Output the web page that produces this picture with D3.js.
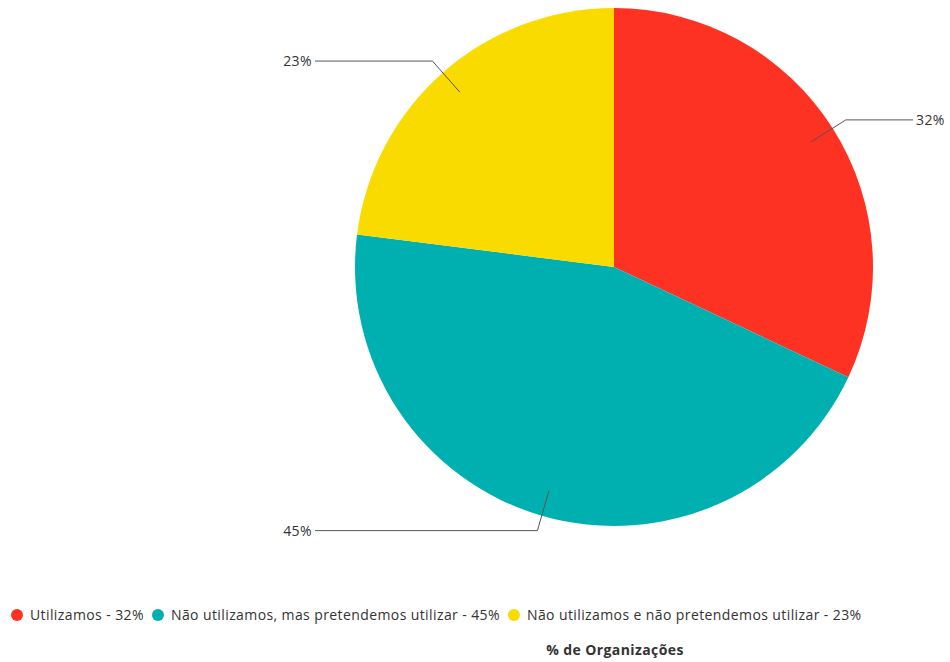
<!DOCTYPE html>
<html>
<head>
<meta charset="utf-8">
<script src="https://cdn.jsdelivr.net/npm/d3@7"></script>
<style>
  body { margin: 0; background: #fff; }
  text { font-family: "Open Sans", "Noto Sans", sans-serif; letter-spacing: 0.4px; }
</style>
</head>
<body>
<svg id="canvas" width="950" height="662"></svg>
<script>
// Data
let categories = ['Utilizamos', 'Não utilizamos, mas pretendemos utilizar', 'Não utilizamos e não pretendemos utilizar'];
let values = [32, 45, 23];
let colors = ['#fe3223', '#00b0b0', '#fadb00'];
let axisTitle = '% de Organizações';

let canvas = d3.select('#canvas');
let cx = 614, cy = 267, radius = 259;

let pie = d3.pie().sort(null).value((d) => d.value);
let arcs = pie(categories.map((c, i) => ({ name: c, value: values[i], color: colors[i] })));

let arc = d3.arc().innerRadius(0).outerRadius(radius);
let innerArc = d3.arc().innerRadius(radius * 0.9).outerRadius(radius * 0.9);
let outerArc = d3.arc().innerRadius(radius * 1.06).outerRadius(radius * 1.06);

let g = canvas.append('g').attr('transform', `translate(${cx},${cy})`);

// Slices
g.selectAll('path.slice')
    .data(arcs)
    .enter()
    .append('path')
    .attr('class', 'slice')
    .attr('d', arc)
    .attr('fill', (d) => d.data.color);

// Label leader lines
let midAngle = (d) => (d.startAngle + d.endAngle) / 2;
let labelX = 299;

g.selectAll('polyline')
    .data(arcs)
    .enter()
    .append('polyline')
    .attr('points', (d) => {
        let a = innerArc.centroid(d);
        let b = outerArc.centroid(d);
        let side = midAngle(d) < Math.PI ? 1 : -1;
        return [a, b, [side * labelX, b[1]]];
    })
    .attr('fill', 'none')
    .attr('stroke', '#555')
    .attr('stroke-width', 1);

g.selectAll('text.label')
    .data(arcs)
    .enter()
    .append('text')
    .attr('class', 'label')
    .attr('x', (d) => (midAngle(d) < Math.PI ? 1 : -1) * (labelX + 3))
    .attr('y', (d) => outerArc.centroid(d)[1])
    .attr('dy', '0.35em')
    .attr('text-anchor', (d) => (midAngle(d) < Math.PI ? 'start' : 'end'))
    .attr('font-size', 14)
    .attr('fill', '#333')
    .text((d) => d.data.value + '%');

// Legend
let legend = canvas.append('g').attr('transform', 'translate(17,615)');
let offset = 0;
categories.forEach((c, i) => {
    let item = legend.append('g').attr('transform', `translate(${offset},0)`);
    item.append('circle').attr('r', 6).attr('fill', colors[i]);
    let t = item.append('text')
        .attr('x', 13)
        .attr('dy', '0.35em')
        .attr('font-size', 14)
        .attr('fill', '#333')
        .text(`${c} - ${values[i]}%`);
    offset += 13 + t.node().getComputedTextLength() + 14;
});

// Axis title
canvas.append('text')
    .attr('x', 615)
    .attr('y', 655)
    .attr('text-anchor', 'middle')
    .attr('font-size', 14)
    .attr('font-weight', 'bold')
    .attr('fill', '#333')
    .text(axisTitle);
</script>
</body>
</html>
